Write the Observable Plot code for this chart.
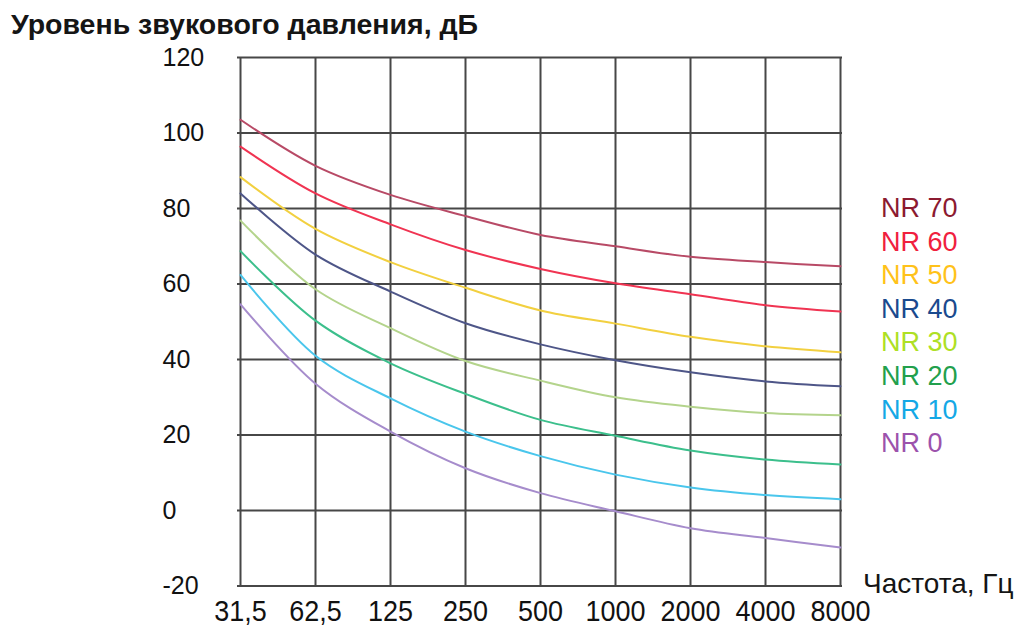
<!DOCTYPE html>
<html>
<head>
<meta charset="utf-8">
<script src="https://cdn.jsdelivr.net/npm/d3@7"></script>
<script src="https://cdn.jsdelivr.net/npm/@observablehq/plot@0.6"></script>
<style>
  html, body { margin: 0; padding: 0; background: #fff; }
  #wrap { position: relative; width: 1025px; height: 626px; overflow: hidden; font-family: "Liberation Sans", Arial, sans-serif; color: #111; }
  #title { box-sizing: border-box; height: 45px; padding: 9px 0 0 11px; font-size: 28.5px; line-height: 31px; font-weight: bold; color: #151515; white-space: nowrap; }
  #legend { position: absolute; left: 881px; top: 192px; font-size: 27px; line-height: 33.6px; }
  #xlabel { position: absolute; left: 863px; top: 569px; font-size: 28px; line-height: 30px; color: #151515; white-space: nowrap; }
</style>
</head>
<body>
<div id="wrap">
  <div id="title">Уровень звукового давления, дБ</div>
  <div id="chart"></div>
  <div id="legend"></div>
  <div id="xlabel">Частота, Гц</div>
</div>
<script>
const freqs = ["31,5", "62,5", "125", "250", "500", "1000", "2000", "4000", "8000"];
const yTicks = [-20, 0, 20, 40, 60, 80, 100, 120];
const seriesNames = ["NR 70", "NR 60", "NR 50", "NR 40", "NR 30", "NR 20", "NR 10", "NR 0"];

const nr70 = [103.5, 91.3, 83.6, 78.0, 73.0, 70.0, 67.2, 65.8, 64.7];
const nr60 = [96.4, 84.0, 75.8, 69.0, 64.0, 60.2, 57.3, 54.4, 52.7];
const nr50 = [88.3, 74.6, 65.8, 59.0, 53.0, 49.5, 46.0, 43.5, 41.9];
const nr40 = [84.0, 67.8, 58.0, 49.6, 44.0, 39.8, 36.6, 34.2, 32.9];
const nr30 = [76.8, 58.6, 48.3, 39.6, 34.4, 30.0, 27.5, 25.8, 25.2];
const nr20 = [68.7, 50.3, 39.0, 30.9, 24.0, 19.8, 15.9, 13.5, 12.2];
const nr10 = [62.4, 41.0, 29.7, 20.9, 14.4, 9.5, 6.1, 4.1, 3.0];
const nr0  = [54.6, 33.6, 20.9, 11.2, 4.6, -0.2, -4.7, -7.3, -9.8];

const curveColors = ["#b84a66", "#f03452", "#f2d040", "#4e5688", "#b4d48c", "#3cbf8c", "#4ac6ec", "#a68ccc"];
const labelColors = ["#8c1a30", "#f0203e", "#ffc21a", "#1a4a8e", "#aee024", "#22a04c", "#14a8e6", "#9c52ac"];

const allSeries = [nr70, nr60, nr50, nr40, nr30, nr20, nr10, nr0];
const rows = [];
allSeries.forEach((vals, i) => {
  vals.forEach((v, j) => rows.push({s: seriesNames[i], f: freqs[j], v}));
});

const chart = Plot.plot({
  width: 1025,
  height: 581,
  marginLeft: 237,
  marginRight: 183,
  marginTop: 12,
  marginBottom: 40.5,
  style: {fontFamily: "'Liberation Sans', Arial, sans-serif", color: "#111", background: "transparent", overflow: "visible"},
  x: {type: "point", domain: freqs, padding: 0},
  y: {domain: [-20, 120]},
  color: {domain: seriesNames, range: curveColors},
  marks: [
    Plot.ruleY(yTicks, {stroke: "#474747", strokeWidth: 2}),
    Plot.ruleX(freqs, {stroke: "#474747", strokeWidth: 2}),
    Plot.line(rows, {x: "f", y: "v", z: "s", stroke: "s", strokeWidth: 2, curve: "catmull-rom"}),
    Plot.axisY({ticks: yTicks, tickSize: 0, tickPadding: 75, textAnchor: "start", fontSize: 25, tickFormat: d => String(d), label: null}),
    Plot.axisX({tickSize: 0, tickPadding: 14, fontSize: 29, label: null})
  ]
});
document.getElementById("chart").appendChild(chart);

// slightly condensed x tick labels, as in the reference
d3.select(chart).selectAll('g[aria-label="x-axis tick label"] text').each(function () {
  const w = this.getComputedTextLength();
  this.setAttribute("textLength", (w * 0.93).toFixed(1));
  this.setAttribute("lengthAdjust", "spacingAndGlyphs");
});

const legend = document.getElementById("legend");
seriesNames.forEach((name, i) => {
  const d = document.createElement("div");
  d.textContent = name;
  d.style.color = labelColors[i];
  legend.appendChild(d);
});
</script>
</body>
</html>
